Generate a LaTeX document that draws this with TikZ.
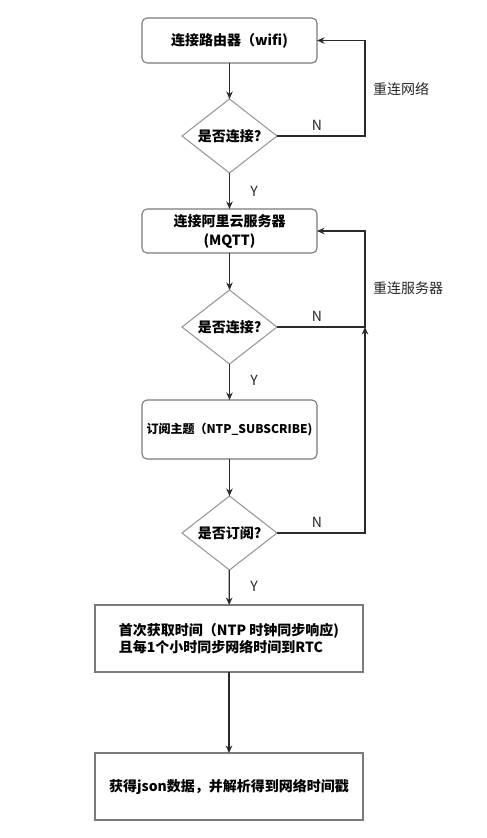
\documentclass[tikz,border=0pt]{standalone}
\usepackage{fontspec}
\setmainfont{Noto Sans CJK SC}
\usetikzlibrary{shapes.geometric,arrows.meta}
\definecolor{boxline}{HTML}{7A7A7A}
\definecolor{decline}{HTML}{9A9A9A}
\definecolor{arrline}{HTML}{2A2A2A}
\tikzset{
  rbox/.style={draw=boxline, line width=1.1pt, rounded corners=5pt, fill=white,
    minimum width=175pt, inner sep=0pt, outer sep=0pt, align=center,
    font=\fontsize{14}{19}\selectfont\bfseries},
  sbox/.style={draw=boxline, line width=1.1pt, fill=white,
    minimum width=268pt, minimum height=67pt, inner sep=0pt, outer sep=0pt,
    font=\fontsize{14}{17}\selectfont\bfseries},
  dec/.style={diamond, draw=decline, line width=1.1pt, fill=white, aspect=1.28,
    minimum width=95pt, minimum height=74pt, inner sep=0pt, outer sep=0pt,
    font=\fontsize{14}{17}\selectfont\bfseries},
  arr/.style={-{Stealth[length=7.5pt,width=6.5pt]}, draw=arrline, line width=1.2pt},
  lbl/.style={font=\fontsize{14}{17}\selectfont, text=black!85, inner sep=0pt},
}
\begin{document}
\begin{tikzpicture}[x=1pt,y=-1pt]
\useasboundingbox (0,0) rectangle (487,838);
\node[rbox, minimum height=45pt] (b1) at (229.5,40.5) {连接路由器（wifi)};
\node[dec] (d1) at (229.5,136) {是否连接?};
\node[rbox, minimum height=44pt] (b2) at (229.5,231) {连接阿里云服务器\\(MQTT)};
\node[dec] (d2) at (229.5,327) {是否连接?};
\node[rbox, minimum height=59pt, font=\fontsize{12}{14}\selectfont\bfseries] (b3) at (229.5,429.5) {订阅主题（NTP\_SUBSCRIBE)};
\node[dec] (d3) at (229.5,533) {是否订阅?};
\node[sbox, align=left] (b4) at (229,638.5) {首次获取时间（NTP 时钟同步响应)\\且每1个小时同步网络时间到RTC};
\node[sbox] (b5) at (229,786.5) {获得json数据，并解析得到网络时间戳};

\coordinate (c1) at (365,136);
\coordinate (c2) at (365,327);
\coordinate (c3) at (365,533);

\draw[arr] (b1) -- (d1);
\draw[arr] (d1) -- (b2);
\draw[arr] (b2) -- (d2);
\draw[arr] (d2) -- (b3);
\draw[arr] (b3) -- (d3);
\draw[arr] (d3) -- (b4);
\draw[arr] (b4) -- (b5);

\draw[arr] (d1.east) -- (c1) |- (b1.east);
\draw[arr] (d2.east) -- (c2) |- (b2.east);
\draw[arr] (d3.east) -- (c3) -- (c2);

\node[lbl] (n1) at (317,125) {N};
\node[lbl] (n2) at (317,316) {N};
\node[lbl] (n3) at (317,522) {N};
\node[lbl] (y1) at (254,191) {Y};
\node[lbl] (y2) at (254,380) {Y};
\node[lbl] (y3) at (254,586) {Y};
\node[lbl] (r1) at (401,89) {重连网络};
\node[lbl] (r2) at (408,288) {重连服务器};
\end{tikzpicture}
\end{document}
